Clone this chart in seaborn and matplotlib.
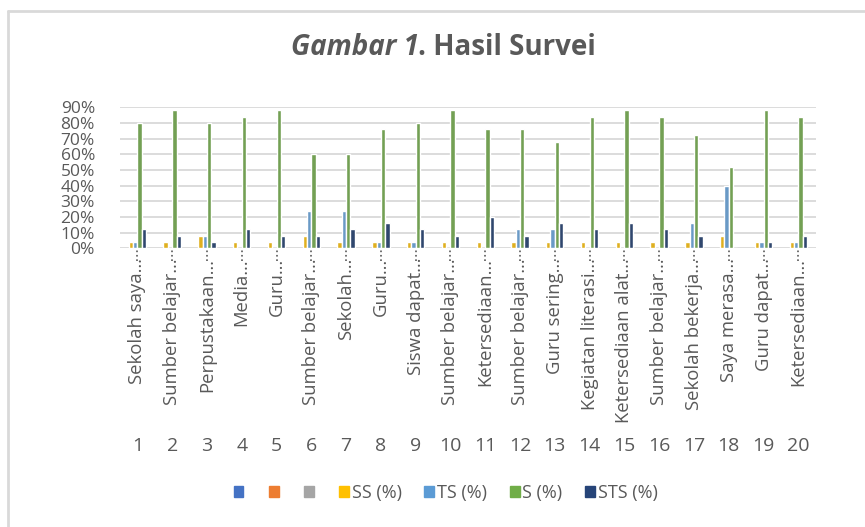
import numpy as np
import pandas as pd
import matplotlib.pyplot as plt
import matplotlib.transforms as mtransforms
from matplotlib.patches import Patch
from matplotlib.ticker import PercentFormatter
import seaborn as sns

# Survey data (fractions of respondents)
nomor = [str(i) for i in range(1, 21)]
pernyataan = ['Sekolah saya…', 'Sumber belajar…', 'Perpustakaan…', 'Media…', 'Guru…',
              'Sumber belajar…', 'Sekolah…', 'Guru…', 'Siswa dapat…', 'Sumber belajar…',
              'Ketersediaan…', 'Sumber belajar…', 'Guru sering…', 'Kegiatan literasi…',
              'Ketersediaan alat…', 'Sumber belajar…', 'Sekolah bekerja…', 'Saya merasa…',
              'Guru dapat…', 'Ketersediaan…']
ss = [0.04, 0.04, 0.08, 0.04, 0.04, 0.08, 0.04, 0.04, 0.04, 0.04,
      0.04, 0.04, 0.04, 0.04, 0.04, 0.04, 0.04, 0.08, 0.04, 0.04]
ts = [0.04, 0.00, 0.08, 0.00, 0.00, 0.24, 0.24, 0.04, 0.04, 0.00,
      0.00, 0.12, 0.12, 0.00, 0.00, 0.00, 0.16, 0.40, 0.04, 0.04]
s = [0.80, 0.88, 0.80, 0.84, 0.88, 0.60, 0.60, 0.76, 0.80, 0.88,
     0.76, 0.76, 0.68, 0.84, 0.88, 0.84, 0.72, 0.52, 0.88, 0.84]
sts = [0.12, 0.08, 0.04, 0.12, 0.08, 0.08, 0.12, 0.16, 0.12, 0.08,
       0.20, 0.08, 0.16, 0.12, 0.16, 0.12, 0.08, 0.00, 0.04, 0.08]
series = ['SS (%)', 'TS (%)', 'S (%)', 'STS (%)']
colors = ['#FFC000', '#5B9BD5', '#70AD47', '#264478']
empty_colors = ['#4472C4', '#ED7D31', '#A5A5A5']

df = pd.DataFrame({'no': nomor, 'SS (%)': ss, 'TS (%)': ts, 'S (%)': s, 'STS (%)': sts})
long = df.melt(id_vars='no', value_vars=series, var_name='seri', value_name='nilai')

sns.set_style('white')
plt.rcParams['font.family'] = ['Open Sans', 'DejaVu Sans']
txt = '#595959'

fig = plt.figure(figsize=(8.65, 5.27), dpi=100)
ax = fig.add_axes([0.1387, 0.529, 0.8043, 0.2676])
sns.barplot(data=long, x='no', y='nilai', hue='seri', palette=colors,
            width=0.5, ax=ax, legend=False)

ax.set_ylim(0, 0.9)
ax.set_yticks(np.arange(0, 0.91, 0.1))
ax.yaxis.set_major_formatter(PercentFormatter(1.0, decimals=0))
ax.grid(axis='y', color='#D9D9D9', lw=1.3)
ax.set_axisbelow(True)
for sp in ax.spines.values():
    sp.set_visible(False)
ax.tick_params(axis='y', length=0, pad=18, labelsize=12.5, labelcolor=txt)
ax.set_xlabel('')
ax.set_ylabel('')
ax.set_xticks(range(len(pernyataan)))
ax.set_xticklabels(pernyataan, rotation=90, va='top', ha='center')
ax.tick_params(axis='x', length=0, pad=7, labelsize=13.3, labelcolor=txt)

# dotted category separators and the number row
trans = mtransforms.blended_transform_factory(ax.transData, ax.transAxes)
ax.vlines(range(len(nomor)), -0.09, 0, transform=trans, colors=txt,
          linestyles=':', lw=1.2, clip_on=False)
for i, n in enumerate(nomor):
    ax.text(i, -1.40, n, transform=trans, ha='center', va='center',
            fontsize=14, color=txt)
ax.set_xlim(-0.5, len(nomor) - 0.5)

# title, centred as one line
t1 = fig.text(0.33, 0.909, 'Gambar 1', fontsize=20, fontweight='bold',
              style='italic', color=txt, ha='left', va='center')
t2 = ax.annotate('. Hasil Survei', xy=(1, 0.5), xycoords=t1, xytext=(0, 0),
                 textcoords='offset points', fontsize=20, fontweight='bold',
                 color=txt, ha='left', va='center')
fig.canvas.draw()
r = fig.canvas.get_renderer()
total = t1.get_window_extent(r).width + t2.get_window_extent(r).width
t1.set_x((443.5 - total / 2) / fig.bbox.width)

# legend
handles = [Patch(color=c) for c in empty_colors + colors]
labels = ['', '', ''] + series
fig.legend(handles, labels, loc='center', bbox_to_anchor=(0.515, 0.064), ncol=7,
           frameon=False, fontsize=13, labelcolor=txt, handlelength=0.55,
           handleheight=0.55, handletextpad=0.15, columnspacing=1.25)

# chart border
fig.add_artist(plt.Line2D([0.0098, 0.0098], [0, 0.979], color='#D9D9D9', lw=2))
fig.add_artist(plt.Line2D([0.0098, 1], [0.979, 0.979], color='#D9D9D9', lw=2))

fig.savefig('out.png', dpi=100, facecolor='white')
